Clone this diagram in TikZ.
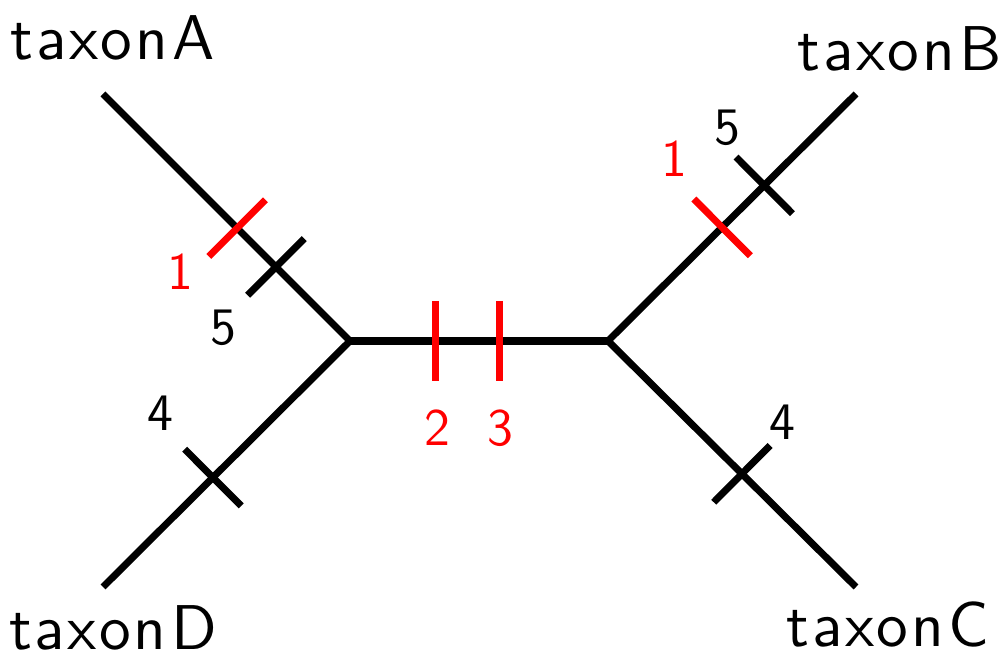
\documentclass[tikz,border=0pt]{standalone}
\usepackage{fontspec}
\usetikzlibrary{calc}
\newfontfamily\taxonfont{lmsans10-regular.otf}[LetterSpace=4]
\begin{document}
\begin{tikzpicture}[x=0.01cm, y=-0.01cm,
    branch/.style={line width=2pt, black},
    tick/.style={line width=2pt},
    taxon/.style={font=\taxonfont\fontsize{18}{20}\selectfont, inner sep=0pt, anchor=base},
    num/.style={font=\sffamily\fontsize{15}{17}\selectfont, inner sep=0pt}
  ]
  \useasboundingbox (0,0) rectangle (1003,662);
  % tree
  \coordinate (L) at (350,341);
  \coordinate (R) at (608,341);
  \coordinate (A) at (103,94);
  \coordinate (B) at (856,94);
  \coordinate (C) at (856,587);
  \coordinate (D) at (103,587);
  \draw[branch] (A) -- (L) -- (D);
  \draw[branch] (L) -- (R);
  \draw[branch] (B) -- (R) -- (C);

  % tick positions
  \path (L) -- (A) coordinate[pos=0.30] (a5) coordinate[pos=0.457] (a1);
  \path (R) -- (B) coordinate[pos=0.63] (b5) coordinate[pos=0.46] (b1);
  \path (L) -- (D) coordinate[pos=0.555] (d4);
  \path (R) -- (C) coordinate[pos=0.54] (c4);
  \path (L) -- (R) coordinate[pos=0.33] (m2) coordinate[pos=0.58] (m3);

  \draw[tick, red] ($(a1)!0.4cm!90:(A)$) -- ($(a1)!0.4cm!-90:(A)$);
  \draw[tick] ($(a5)!0.4cm!90:(A)$) -- ($(a5)!0.4cm!-90:(A)$);
  \draw[tick, red] ($(b1)!0.4cm!90:(B)$) -- ($(b1)!0.4cm!-90:(B)$);
  \draw[tick] ($(b5)!0.4cm!90:(B)$) -- ($(b5)!0.4cm!-90:(B)$);
  \draw[tick] ($(d4)!0.4cm!90:(D)$) -- ($(d4)!0.4cm!-90:(D)$);
  \draw[tick] ($(c4)!0.4cm!90:(C)$) -- ($(c4)!0.4cm!-90:(C)$);
  \draw[tick, red] ($(m2)!0.4cm!90:(R)$) -- ($(m2)!0.4cm!-90:(R)$);
  \draw[tick, red] ($(m3)!0.4cm!90:(R)$) -- ($(m3)!0.4cm!-90:(R)$);

  % labels
  \node[num, red] (n1a) at (180,272) {1};
  \node[num] (n5a) at (223,328) {5};
  \node[num, red] (n1b) at (674,159) {1};
  \node[num] (n5b) at (727,128) {5};
  \node[num] (n4d) at (160,413) {4};
  \node[num] (n4c) at (782,422) {4};
  \node[num, red] (n2) at (437,428) {2};
  \node[num, red] (n3) at (500,428) {3};

  \node[taxon] (tA) at (113,60) {taxon\hspace{0.08em}A};
  \node[taxon] (tB) at (900,71) {taxon\hspace{0.08em}B};
  \node[taxon] (tC) at (888,647) {taxon\hspace{0.08em}C};
  \node[taxon] (tD) at (113,650) {taxon\hspace{0.08em}D};
\end{tikzpicture}
\end{document}
